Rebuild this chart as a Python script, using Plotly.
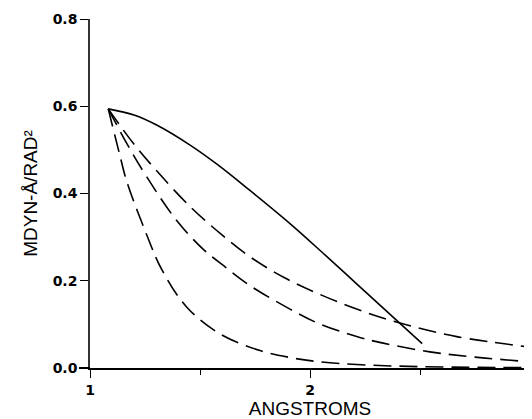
import plotly.graph_objects as go

# Data
solid_x = [1.083, 1.2, 1.303, 1.455, 1.583, 1.727, 1.909, 2.06, 2.212, 2.364, 2.51]
solid_y = [0.594, 0.580, 0.557, 0.511, 0.465, 0.407, 0.331, 0.263, 0.193, 0.123, 0.056]

dash1_x = [1.083, 1.197, 1.303, 1.455, 1.6, 1.727, 1.88, 2.03, 2.212, 2.417, 2.667, 3.0]
dash1_y = [0.594, 0.515, 0.452, 0.370, 0.305, 0.255, 0.208, 0.172, 0.135, 0.102, 0.072, 0.048]

dash2_x = [1.083, 1.167, 1.258, 1.394, 1.515, 1.606, 1.727, 1.909, 2.03, 2.212, 2.333, 2.545, 2.75, 3.0]
dash2_y = [0.594, 0.515, 0.438, 0.338, 0.272, 0.235, 0.189, 0.135, 0.104, 0.072, 0.057, 0.037, 0.025, 0.014]

dash3_x = [1.083, 1.136, 1.167, 1.258, 1.326, 1.439, 1.591, 1.773, 1.909, 2.03, 2.212, 2.51, 3.0]
dash3_y = [0.594, 0.487, 0.428, 0.305, 0.226, 0.140, 0.078, 0.040, 0.024, 0.015, 0.008, 0.003, 0.001]

x_ticks = [1, 2, 3]
x_ticklabels = ["1", "2", "3"]
y_ticks = [0.0, 0.2, 0.4, 0.6, 0.8]
y_ticklabels = ["0.0", "0.2", "0.4", "0.6", "0.8"]

x_title = "ANGSTROMS"
y_title = "MDYN-Å/RAD²"

title_font = dict(family="Liberation Sans, Arial, sans-serif", size=19, color="black")
tick_font = dict(family="DejaVu Sans, sans-serif", size=14, color="black", weight="bold")

fig = go.Figure()
fig.add_trace(go.Scatter(x=solid_x, y=solid_y, mode="lines", line_shape="spline",
                         line=dict(color="black", width=1.6)))
for xs, ys in [(dash1_x, dash1_y), (dash2_x, dash2_y), (dash3_x, dash3_y)]:
    fig.add_trace(go.Scatter(x=xs, y=ys, mode="lines", line_shape="spline",
                             line=dict(color="black", width=1.6, dash="18px,8px")))

fig.update_layout(
    width=524, height=411,
    template="none",
    showlegend=False,
    paper_bgcolor="white", plot_bgcolor="white",
    margin=dict(l=82, r=2, t=11, b=51, autoexpand=False),
    xaxis=dict(range=[1, 3], tickvals=x_ticks, ticktext=x_ticklabels,
               showgrid=False, zeroline=False, showline=True, linecolor="black", linewidth=2,
               ticks="outside", ticklen=8, tickwidth=1.2, tickcolor="black",
               minor=dict(dtick=0.5, ticks="outside", ticklen=5, tickwidth=1.2, tickcolor="black"),
               tickfont=tick_font, automargin=False, ticklabeloverflow="allow",
               title=dict(text=x_title, font=title_font, standoff=14)),
    yaxis=dict(range=[0, 0.8], tickvals=y_ticks, ticktext=y_ticklabels,
               showgrid=False, zeroline=False, showline=True, linecolor="#333", linewidth=1.5,
               ticks="outside", ticklen=8, tickwidth=1.2, tickcolor="black",
               tickfont=tick_font, automargin=False,
               title=dict(text=y_title, font=title_font, standoff=10)),
)
# small extension of the x axis line to the left of the y axis
fig.add_shape(type="line", xref="paper", yref="paper", x0=-0.025, x1=0, y0=0, y1=0,
              line=dict(color="black", width=2))

fig.write_html("out.html")
